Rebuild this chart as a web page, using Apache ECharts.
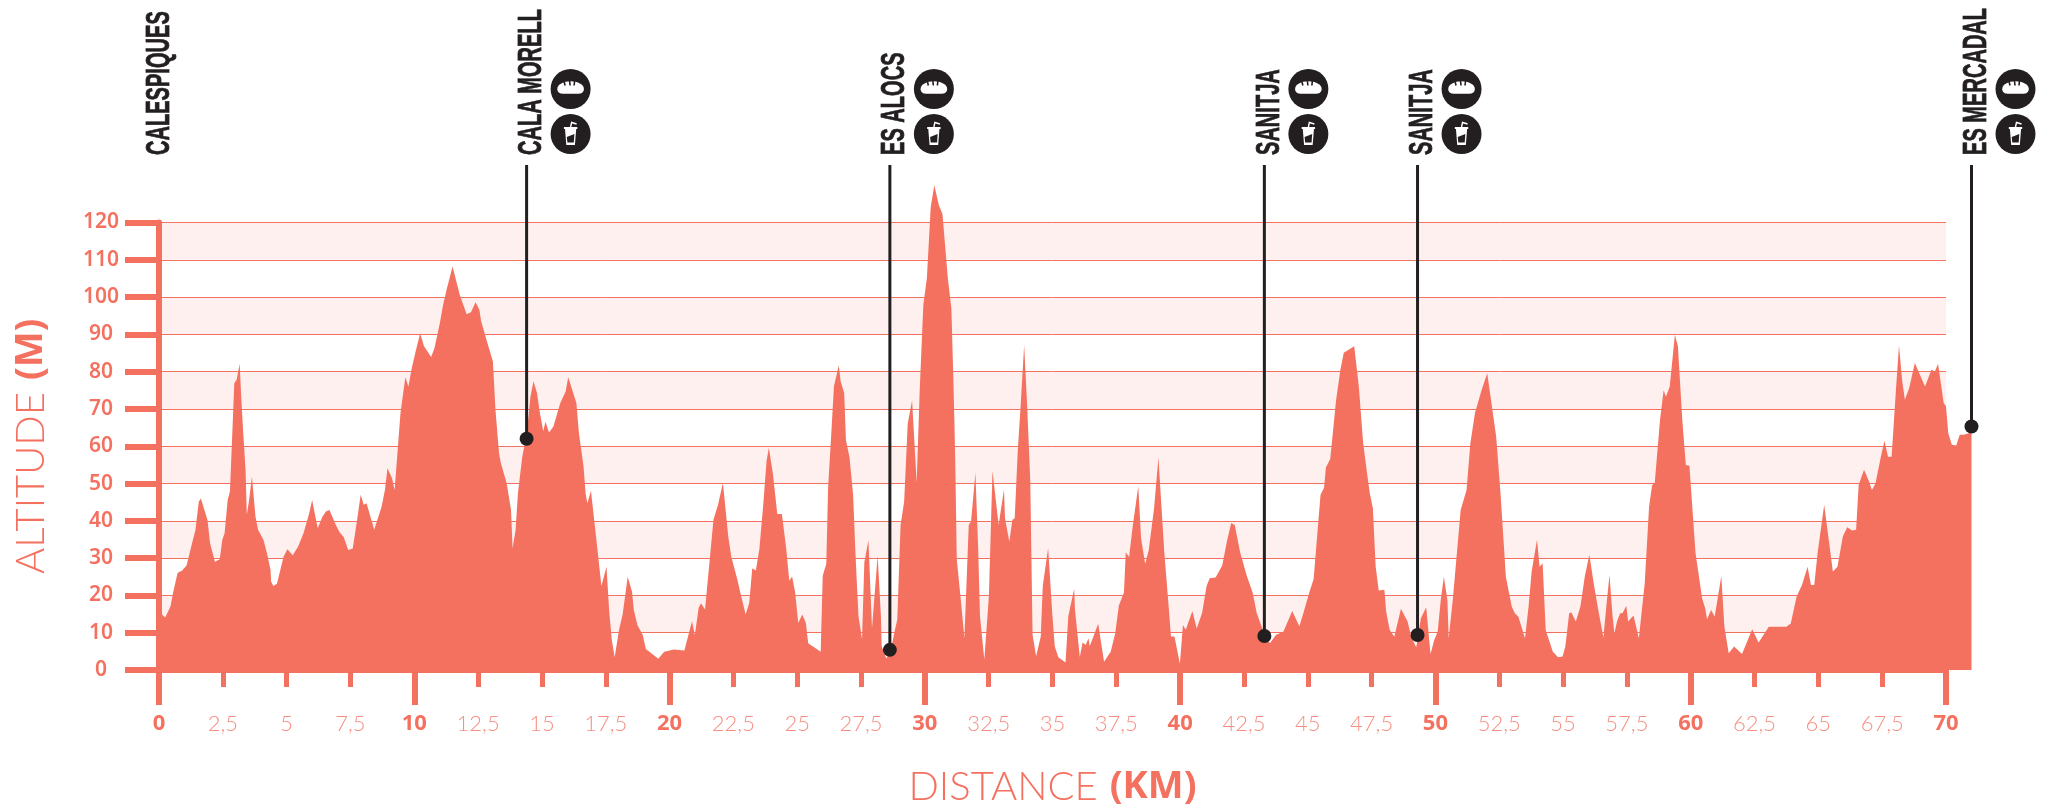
<!DOCTYPE html>
<html>
<head>
<meta charset="utf-8">
<style>
  html, body { margin: 0; padding: 0; background: #fff; }
  #graph { width: 2045px; height: 804px; }
</style>
<script src="https://cdn.jsdelivr.net/npm/echarts@6/dist/echarts.min.js"></script>
</head>
<body>
<div id="graph"></div>
<script>
// profile, km and metres
const profileKm = [0,0.24,0.45,0.56,0.73,0.9,1.08,1.33,1.43,1.56,1.64,1.9,2,2.19,2.38,2.48,2.57,2.69,2.78,2.95,3.04,3.16,3.22,3.3,3.39,3.44,3.53,3.64,3.78,3.88,4.09,4.23,4.37,4.39,4.48,4.62,4.88,5.03,5.24,5.45,5.66,5.87,6,6.1,6.22,6.4,6.54,6.68,6.89,7.06,7.24,7.41,7.59,7.76,7.9,8.02,8.13,8.43,8.72,8.85,8.95,9.13,9.23,9.34,9.46,9.65,9.77,9.9,10.07,10.23,10.38,10.66,10.79,11,11.12,11.26,11.5,11.78,12.05,12.22,12.4,12.55,12.62,12.83,13.08,13.18,13.32,13.39,13.62,13.79,13.85,13.97,14.06,14.23,14.41,14.55,14.67,14.81,14.9,15.05,15.14,15.28,15.45,15.72,15.93,16.03,16.35,16.45,16.63,16.71,16.78,16.92,17.12,17.33,17.53,17.64,17.74,17.85,18.02,18.16,18.36,18.53,18.6,18.74,18.95,19.07,19.56,19.79,20.17,20.58,20.88,20.99,21.14,21.23,21.39,21.6,21.72,21.9,22.09,22.3,22.42,22.65,22.77,22.98,23.12,23.24,23.38,23.52,23.68,23.8,23.89,24.05,24.22,24.4,24.57,24.69,24.8,24.92,25.04,25.2,25.34,25.43,25.92,26,26.14,26.21,26.32,26.44,26.63,26.7,26.84,26.91,27.05,27.19,27.28,27.4,27.54,27.63,27.79,27.93,28.03,28.15,28.28,28.31,28.49,28.66,28.8,28.92,29.05,29.19,29.33,29.5,29.68,29.8,29.94,30.08,30.23,30.37,30.55,30.69,30.9,31.04,31.11,31.16,31.2,31.25,31.42,31.55,31.72,31.81,31.98,32.09,32.16,32.33,32.51,32.65,32.72,32.89,32.94,33.1,33.14,33.31,33.43,33.52,33.64,33.75,33.89,34.01,34.13,34.22,34.36,34.54,34.62,34.83,34.99,35.09,35.23,35.51,35.62,35.85,35.88,36.07,36.18,36.3,36.41,36.46,36.79,37.02,37.28,37.46,37.6,37.8,37.87,38,38.15,38.36,38.47,38.63,38.77,38.98,39.15,39.38,39.55,39.64,39.78,39.99,40.11,40.22,40.48,40.65,40.86,41.04,41.16,41.39,41.65,41.83,42,42.14,42.35,42.61,42.84,43,43.31,43.52,43.75,44.05,44.39,44.67,44.83,45.06,45.23,45.5,45.64,45.71,45.88,46.11,46.28,46.41,46.65,46.82,47,47.17,47.34,47.43,47.55,47.66,47.78,48,48.07,48.21,48.39,48.65,48.91,49.05,49.25,49.43,49.64,49.78,49.81,49.95,50.09,50.21,50.33,50.47,50.52,50.68,50.99,51.22,51.37,51.55,51.81,52.03,52.38,52.55,52.76,52.99,53.11,53.25,53.51,53.65,53.77,53.98,54.08,54.2,54.32,54.6,54.81,54.98,55.09,55.24,55.33,55.5,55.68,55.85,56.03,56.2,56.37,56.58,56.72,56.82,56.93,57.01,57.12,57.24,57.33,57.48,57.55,57.76,57.97,58.2,58.37,58.49,58.59,58.8,58.94,59.03,59.18,59.38,59.5,59.67,59.81,59.95,60.19,60.45,60.57,60.64,60.8,60.94,61.2,61.32,61.49,61.7,62.01,62.41,62.66,63.06,63.75,63.92,64.15,64.36,64.58,64.71,64.84,64.97,65.23,65.57,65.75,65.96,66.13,66.32,66.48,66.58,66.79,66.96,67.1,67.24,67.45,67.59,67.73,67.87,68.04,68.16,68.28,68.39,68.56,68.63,68.78,69.01,69.18,69.43,69.57,69.69,69.91,70,70.09,70.23,70.4,70.54,70.7,71]
const profileAlt = [15.6,14.1,17,21,26.1,26.6,28,34.9,37.6,45.2,46,40.2,34,29,29.7,34.9,36.7,45.6,47.9,76.9,77.8,82.1,73.3,63.5,53.7,41.6,45.6,51.9,41.1,37.6,34.9,31.3,26.8,23.7,22.5,23.1,30.4,32.4,30.8,33.1,36.7,41.6,45.6,42,38,41.1,42.5,42.9,39.4,37.1,35.6,32.2,32.6,40.2,47,44.3,44.7,37.6,43.8,48.3,54.1,51.4,48.3,58.1,68.9,78.5,76,80.9,85.9,90.3,86.8,83.9,86.3,93,97.6,101.8,108.2,100.6,95.4,95.9,98.6,96.6,93.5,88.5,82.7,69.8,58.1,55.5,50.1,42.9,32.6,37.6,47.4,57.2,63.5,73.3,77.4,74.2,69.8,64,66.6,63.7,65.3,71.6,74.7,78.5,71.6,63.5,54.6,47.4,44.7,48.1,35.8,22.5,27.7,15.2,8,3.4,10.7,14.8,25,21,16.1,12.1,9.4,5.6,3,4.9,5.5,5.2,13.1,9.4,16.7,17.9,16.2,31.6,40.3,44.3,50.2,35.7,30.3,24.4,20.8,14.9,18,27.3,26.7,32.5,45.2,56.1,59.6,52.5,41.8,41.8,32.5,23.9,25.1,20.8,12.6,14.9,12.6,7.2,4.9,25.3,28.5,48.9,61.6,76.1,81.7,77.4,74.3,61.6,57,47,31.6,14.4,8.3,28.9,34.8,11.2,19.9,30.7,14.4,6.3,3.1,4.9,9.9,13.5,38.9,45.2,66.1,72.3,50.2,75.2,97.8,105.1,124.1,130,124.6,122.3,105.1,96.9,79.7,66.1,52.5,29.8,18,8.5,38.9,39.8,52.9,32.5,14.4,2.8,19.9,53.4,53.4,38.9,38.4,48.4,40.7,34.4,40.3,40.7,58.8,70.6,87.1,70.6,50.7,9.4,3.7,9,22.6,32.7,15.3,6.3,3.4,2,14.4,21.8,16.2,3.5,7.4,6.7,8.5,6.4,12.4,2.2,4.9,9.9,17.3,20.8,31.6,30.3,38.9,49.3,35.3,28.5,32.1,43.4,57,31.6,17.1,9,9,1.7,12.1,10.8,15.8,11.1,15.3,22.6,24.6,24.8,28,34.4,39.4,38.9,31.6,25.3,20.8,15.3,9.4,7.2,9.4,10.3,15.8,11.7,15.3,20.8,24.4,47,48.9,54.3,56.6,72.4,80.6,85.1,86.1,86.8,76,60.8,51.9,47.4,43.4,27.7,21.3,21.5,15.7,10.7,8.9,16.4,13,8.9,6.1,13.9,16.8,6.3,4.3,8,10.3,18.8,25,18.8,8.5,18.8,42.9,48.3,60.8,68.9,75.1,79.6,62.6,47.4,25,17,15.2,14.3,8.5,17,26.4,34.9,27.7,28.6,10.7,4.9,3.4,3.6,6.3,15.2,15.4,13,17,25,30.9,23.3,16.5,8.7,18.8,25.5,15.2,9.8,13.2,15.2,15.2,17.2,13,14.6,8.5,23.3,43.8,49.6,50.1,67.1,75,73.3,76,89.9,86.8,67.1,55,54.8,31.3,19.2,16.5,13.6,16.1,14.3,25.2,11.6,4.5,6.3,4.3,10.9,7.4,11.6,11.6,12.5,19.7,22.8,27.7,22.8,22.8,31.3,44.3,26.4,27.7,35.8,38.3,37.4,37.6,49.6,53.7,51,48.3,50.1,57.2,61.5,57.2,57.2,75.1,87,77.8,72.5,75.6,75.6,82.3,78.7,76,80.5,80.1,82.1,71.6,70.7,63.5,60.4,60.2,63.1,63.1,63.7]

const xTickValues = [0,2.5,5,7.5,10,12.5,15,17.5,20,22.5,25,27.5,30,32.5,35,37.5,40,42.5,45,47.5,50,52.5,55,57.5,60,62.5,65,67.5,70]
const xTickLabels = ['0','2,5','5','7,5','10','12,5','15','17,5','20','22,5','25','27,5','30','32,5','35','37,5','40','42,5','45','47,5','50','52,5','55','57,5','60','62,5','65','67,5','70']

const stopNames = ['CALESPIQUES', 'CALA MORELL', 'ES ALOCS', 'SANITJA', 'SANITJA', 'ES MERCADAL']
const stopKm = [-0.17, 14.4, 28.63, 43.3, 49.3, 71]
const stopAlt = [null, 62, 5.4, 9.1, 9.4, 65.3]

const coral = '#F4705F'
const ink = '#231F20'
const pink = '#FDF0EE'
const numberFont = '"Noto Sans"'
const titleFont = 'Lato'

const breadPath = 'M-13.3 0C-13.3 -4.5 -7 -7.7 0 -7.7C7 -7.7 13.3 -4.5 13.3 0C13.3 3 11 4.7 8 4.7L-8 4.7C-11 4.7 -13.3 3 -13.3 0Z'
const breadCuts = 'M-6.5 -7.5L-5.5 -3.5M-1 -8L-0.5 -3.5M4 -8L3.5 -3.5'
const cupBody = 'M-6.7 -7L6.7 -7L6.7 -5L5.6 -5L4.3 11L-4.3 11L-5.6 -5L-6.7 -5Z'
const cupStraw = 'M0 -7L1 -11.5L6 -10'
const cupWindow = 'M-3.8 3L3.8 0L3.2 8.5L-3.2 8.5Z'

function renderStop (params, api) {
  const i = params.dataIndex
  const x = api.coord([api.value(0), 0])[0]
  const children = []
  if (stopAlt[i] !== null) {
    const p = api.coord([api.value(0), api.value(1)])
    children.push({
      type: 'line',
      shape: { x1: x, y1: 165, x2: x, y2: p[1] },
      style: { stroke: ink, lineWidth: 3 }
    })
    children.push({
      type: 'circle',
      shape: { cx: x, cy: p[1], r: 7 },
      style: { fill: ink }
    })
    // bread + drink
    children.push({ type: 'circle', shape: { cx: x + 44, cy: 89, r: 20 }, style: { fill: ink } })
    children.push({ type: 'circle', shape: { cx: x + 44, cy: 134, r: 20 }, style: { fill: ink } })
    children.push({ type: 'path', x: x + 44, y: 89, shape: { pathData: breadPath }, style: { fill: '#fff' } })
    children.push({ type: 'path', x: x + 44, y: 89, shape: { pathData: breadCuts }, style: { fill: 'none', stroke: ink, lineWidth: 1.6 } })
    children.push({ type: 'path', x: x + 44, y: 134, shape: { pathData: cupBody }, style: { fill: '#fff' } })
    children.push({ type: 'path', x: x + 44, y: 134, shape: { pathData: cupStraw }, style: { fill: 'none', stroke: '#fff', lineWidth: 1.4 } })
    children.push({ type: 'path', x: x + 44, y: 134, shape: { pathData: cupWindow }, style: { fill: ink } })
  }
  children.push({
    type: 'text',
    x: x + 5,
    y: 155,
    rotation: Math.PI / 2,
    scaleX: 0.59,
    style: {
      text: stopNames[i],
      fill: ink,
      stroke: ink,
      lineWidth: 0.8,
      font: 'bold 34px "Liberation Sans"',
      textAlign: 'left',
      textVerticalAlign: 'middle'
    }
  })
  return { type: 'group', children: children }
}

const option = {
  animation: false,
  backgroundColor: '#fff',
  // second grid runs on to km 71, past the end of the ruled area
  grid: [
    { left: 159, right: 99, top: 222.5, bottom: 134, outerBoundsMode: 'none' },
    { left: 159, right: 73.5, top: 222.5, bottom: 134, outerBoundsMode: 'none' }
  ],
  xAxis: [{
    type: 'value',
    gridIndex: 0,
    min: 0,
    max: 70,
    interval: 10,
    name: '{a|DISTANCE}{b|(KM)}',
    nameLocation: 'middle',
    nameGap: 97,
    nameTextStyle: {
      rich: {
        a: { fontFamily: titleFont, fontWeight: 300, fontSize: 40, color: coral },
        b: { fontFamily: numberFont, fontWeight: 700, fontSize: 38, color: coral, padding: [0, 0, 0, 12] }
      }
    },
    axisLine: { lineStyle: { color: coral, width: 6 } },
    axisTick: { length: 35, lineStyle: { color: coral, width: 6 } },
    minorTick: { show: true, splitNumber: 4, length: 17, lineStyle: { color: coral, width: 5 } },
    splitLine: { show: false },
    axisLabel: {
      customValues: xTickValues,
      margin: 43,
      formatter: function (v) {
        const s = xTickLabels[xTickValues.indexOf(v)]
        return v % 10 === 0 ? '{b|' + s + '}' : '{l|' + s + '}'
      },
      rich: {
        b: { fontFamily: numberFont, fontWeight: 700, fontSize: 22, color: coral },
        l: { fontFamily: titleFont, fontWeight: 300, fontSize: 22, color: '#F68F82' }
      }
    }
  }, {
    type: 'value',
    gridIndex: 1,
    min: 0,
    max: 71,
    show: false
  }],
  yAxis: [{
    type: 'value',
    gridIndex: 0,
    min: 0,
    max: 120,
    interval: 10,
    name: '{a|ALTITUDE}{b|(M)}',
    nameLocation: 'middle',
    nameGap: 108,
    nameTextStyle: {
      rich: {
        a: { fontFamily: titleFont, fontWeight: 300, fontSize: 40, color: coral },
        b: { fontFamily: numberFont, fontWeight: 700, fontSize: 38, color: coral, padding: [0, 0, 0, 12] }
      }
    },
    axisLine: { show: true, lineStyle: { color: coral, width: 6 } },
    axisTick: { show: true, length: 34, lineStyle: { color: coral, width: 6 } },
    axisLabel: {
      margin: 58,
      align: 'center',
      fontFamily: numberFont,
      fontWeight: 600,
      fontSize: 21,
      color: coral
    },
    splitLine: { lineStyle: { color: coral, width: 1 } },
    splitArea: { show: true, areaStyle: { color: ['#fff', pink] } }
  }, {
    type: 'value',
    gridIndex: 1,
    min: 0,
    max: 120,
    show: false
  }],
  series: [
    {
      name: 'altitude',
      type: 'line',
      xAxisIndex: 1,
      yAxisIndex: 1,
      data: profileKm.map((km, i) => [km, profileAlt[i]]),
      clip: false,
      showSymbol: false,
      silent: true,
      lineStyle: { width: 0 },
      areaStyle: { color: coral, opacity: 1 },
      z: 3
    },
    {
      name: 'stops',
      type: 'custom',
      xAxisIndex: 1,
      yAxisIndex: 1,
      clip: false,
      silent: true,
      data: stopKm.map((km, i) => [km, stopAlt[i] === null ? 0 : stopAlt[i]]),
      renderItem: renderStop,
      z: 5
    }
  ]
}

let myChart = echarts.init(document.getElementById('graph'))
myChart.setOption(option)
</script>
</body>
</html>
